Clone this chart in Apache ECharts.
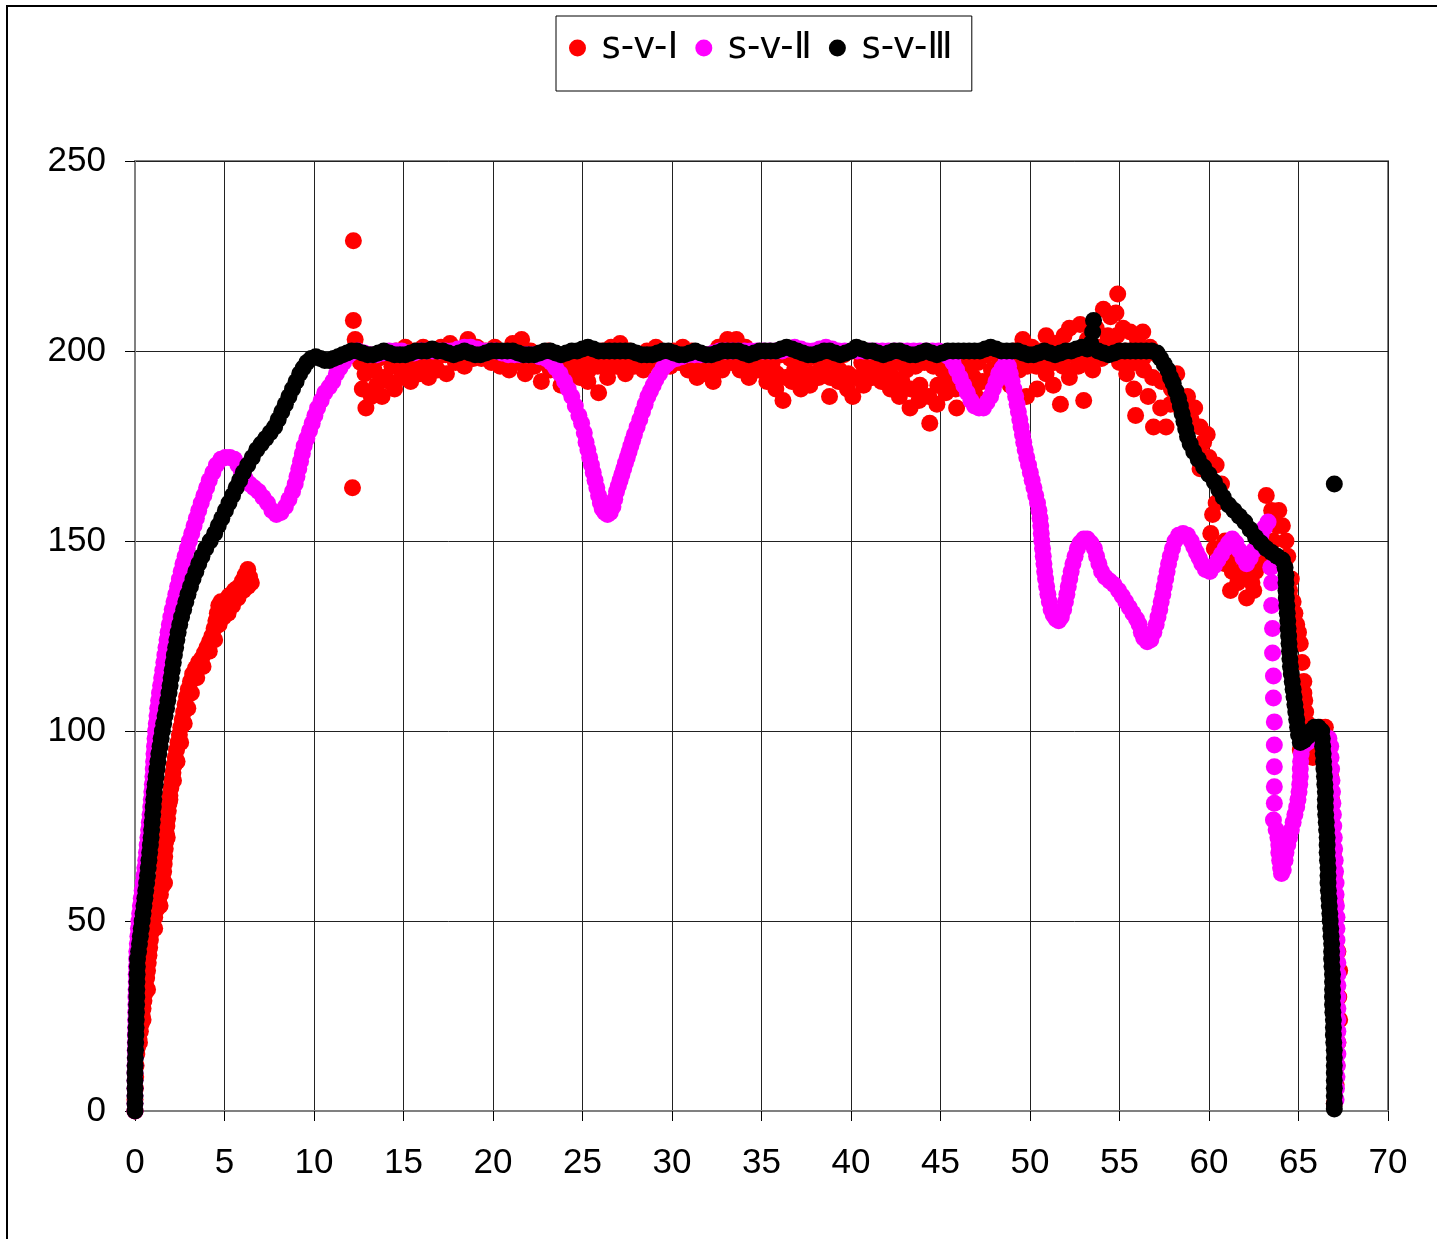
<!DOCTYPE html>
<html>
<head>
<meta charset="utf-8">
<title>s-v</title>
<script src="https://cdn.jsdelivr.net/npm/echarts@6/dist/echarts.min.js"></script>
<style>
  html, body { margin: 0; padding: 0; background: #fff; }
  #chart { width: 1437px; height: 1239px; }
</style>
</head>
<body>
<div id="chart"></div>
<script>
// 系列名
const seriesNames = ['s-v-Ⅰ', 's-v-Ⅱ', 's-v-Ⅲ']
const seriesColors = ['#FF0000', '#FF00FF', '#000000']

// s-v-Ⅰ  [s, v]
const redPoints = [
    [0,0],[0,3],[0.02,6],[0.04,9],[0.06,12],[0.1,15],[0.15,17],[0.22,19],[0.3,21],[0.35,23],[0.4,25],
    [0.45,27],[0.5,29],[0.55,31],[0.6,33],[0.65,35],[0.7,37],[0.74,39],[0.78,41],[0.82,43],[0.86,45],
    [0.9,47],[1.0,49],[1.1,51],[1.2,53],[1.32,55],[1.42,57],[1.5,59],[1.55,61],[1.6,63],[1.63,65],[1.66,67],
    [1.69,69],[1.72,71],[1.75,73],[1.78,75],[1.82,77],[1.86,79],[1.9,81],[1.95,83],[2.0,85],[2.06,87],
    [2.12,89],[2.18,91],[2.25,93],[2.32,95],[2.4,97],[2.48,99],[2.56,101],[2.64,103],[2.72,105],[2.8,107],
    [2.88,109],[2.98,111],[3.1,113],[3.22,115],[3.38,116.5],[3.55,118],[3.72,119],[3.88,120.5],[4.02,122],
    [4.16,123.5],[4.3,125],[4.42,127],[4.52,129],[4.6,131],[4.68,133],[4.8,134],[4.95,133],[5.1,134.5],
    [5.25,135.5],[5.4,136],[5.55,137],[5.7,137.5],[5.85,138],[6.0,139.5],[6.15,141],[6.3,142.5],[6.4,140.5],
    [6.5,139],[6.3,138],[6.05,137],[5.75,135],[5.45,133],[5.2,131],[4.95,130],[4.7,128],[4.45,124],
    [4.15,121],[3.8,117],[3.45,114],[3.15,110],[2.95,106],[2.75,102],[2.55,97],[2.35,92],[2.15,87],
    [1.95,82],[1.8,72],[1.65,60],[1.4,54],[1.1,48],[0.7,32],[0.45,24],[0.25,18],
    [12.2,229],[12.2,208],[12.15,164],[12.3,203],
    [12.6,197],[13.1,196],[13.6,198],[14.1,199],[14.6,200],[15.1,201],[15.6,200],[16.1,201],[16.6,199],
    [17.1,201],[17.6,202],[18.1,200],[18.6,203],[19.1,201],[19.6,200],[20.1,201],[20.6,199],[21.1,202],
    [21.6,203],[22.1,200],[22.6,199],[23.1,200],[23.6,198],[24.1,199],[24.6,197],[25.1,198],[25.6,199],
    [26.1,200],[26.6,201],[27.1,202],[27.6,200],[28.1,199],[28.6,200],[29.1,201],[29.6,199],[30.1,200],
    [30.6,201],[31.1,200],[31.6,199],[32.1,199],[32.6,201],[33.1,203],[33.6,203],[34.1,201],[34.6,199],
    [35.1,198],[35.6,197],[36.1,199],[36.6,198],[37.1,197],[37.6,198],[38.1,200],[38.6,197],[39.1,198],
    [39.6,199],[40.1,200],[40.6,197],[41.1,196],[41.6,198],[42.1,196],[42.6,197],[43.1,195],[43.6,196],
    [44.1,197],[44.6,196],[45.1,195],[45.6,197],[46.1,198],[46.6,196],[47.1,197],[47.6,199],[48.1,199],
    [48.6,197],[49.1,200],[49.6,203],[50.1,201],[50.6,200],[50.9,204],[51.4,202],[51.9,204],[52.2,206],
    [52.8,207],[53.2,203],[53.7,206],[54.1,211],[54.5,209],[54.9,215],[54.8,210],[55.2,206],[55.6,205],
    [56.0,203],[56.3,205],[56.7,201],[57.1,199],
    [12.7,190],[12.9,185],[13.2,188],[13.5,191],[13.8,188],[14.2,192],[14.5,190],[14.9,193],[15.4,192],
    [15.9,194],[16.4,193],[16.9,195],[17.4,194],[17.9,197],[18.4,196],[18.9,198],[19.4,199],[19.9,197],
    [20.4,196],[20.9,195],[21.3,197],[21.8,194],[22.3,196],[22.7,192],[23.2,195],[23.8,191],[24.3,193],
    [24.8,195],[25.3,192],[25.9,189],[26.4,193],[26.9,196],[27.4,194],[27.9,196],[28.4,195],[28.9,197],
    [29.4,198],[29.9,196],[30.4,197],[30.9,195],[31.4,193],[31.9,194],[32.3,192],[32.8,195],[33.3,197],
    [33.8,195],[34.3,193],[34.8,195],[35.3,192],[35.8,190],[36.2,187],[36.7,192],[37.2,190],[37.7,191],
    [38.2,193],[38.8,188],[39.3,192],[39.8,190],[40.1,188],[40.7,191],[41.2,193],[41.7,192],[42.2,190],
    [42.7,188],[43.3,185],[43.8,187],[44.4,181],[44.8,186],[45.3,189],[45.9,185],[46.4,190],[46.9,189],
    [47.4,187],[47.9,192],[48.4,194],[48.9,191],[49.4,195],[49.8,188],[50.4,190],[50.9,194],[51.3,191],
    [51.7,186],[52.2,193],[52.7,196],[53.0,187],[53.5,195],[54.0,198],[54.6,201],[55.0,197],[55.4,194],
    [55.8,190],[55.9,183],[56.3,198],[56.6,188],[56.9,180],[57.3,185],[57.6,180],[57.9,190],[58.2,194],
    [58.4,185],
    [12.85,194],[13.35,195],[13.85,193],[14.35,196],[14.85,197],[15.35,196],[15.85,198],[16.35,197],
    [16.85,198],[17.35,199],[17.85,199],[18.35,199],[18.85,200],[19.35,198],[19.85,199],[20.35,198],
    [20.85,198],[21.35,200],[21.85,198],[22.35,197],[22.85,197],[23.35,197],[23.85,195],[24.35,196],
    [24.85,193],[25.35,195],[25.85,196],[26.35,197],[26.85,198],[27.35,197],[27.85,198],[28.35,197],
    [28.85,199],[29.35,200],[29.85,198],[30.35,199],[30.85,198],[31.35,196],[31.85,197],[32.35,196],
    [32.85,198],[33.35,200],[33.85,198],[34.35,197],[34.85,197],[35.35,195],[35.85,194],[36.35,193],
    [36.85,195],[37.35,194],[37.85,194],[38.35,196],[38.85,193],[39.35,195],[39.85,194],[40.35,193],
    [40.85,194],[41.35,195],[41.85,195],[42.35,193],[42.85,192],[43.35,190],[43.85,191],[44.35,188],
    [44.85,191],[45.35,192],[45.85,190],[46.35,193],[46.85,193],[47.35,192],[47.85,195],[48.35,197],
    [48.85,195],[49.35,198],[49.85,196],[50.35,196],[50.85,198],[51.35,197],[51.85,196],[52.35,199],
    [52.85,200],[53.35,198],[53.85,201],[54.35,204],[54.85,204],[55.35,200],[55.85,197],[56.35,195],
    [56.85,193],[57.35,192],[57.85,186],
    [58.8,188],[59.0,182],[59.2,185],[59.5,180],[59.7,176],[59.9,178],[59.6,172],[59.5,169],[60.0,172],
    [60.4,170],[60.7,165],[60.4,160],[60.2,157],[60.1,152],[60.3,148],[60.6,146],[60.9,150],[60.9,144],
    [61.3,142],[61.5,146],[61.2,137],[61.6,139],[61.8,141],[62.1,135],[62.4,139],[62.5,137],[62.0,143],
    [62.6,142],[62.8,145],[63.0,147],[63.2,162],[63.5,158],[63.6,150],[63.8,154],[63.9,158],[64.1,154],
    [64.2,144],[64.3,150],[64.4,146],[64.5,137],[64.6,140],[64.7,134],[64.8,131],[64.9,128],[65.0,126],
    [65.1,123],[65.2,118],[65.3,113],[65.3,110],[65.35,108],[65.4,105],[65.5,102],[65.6,98],[65.8,93],
    [65.3,93],[65.1,95],[65.9,96],[66.2,101],[66.5,101],[66.6,92],[66.7,95],[66.8,88],[66.85,82],[66.9,75],
    [66.95,68],[67.0,62],[67.05,55],[67.1,48],[67.2,42],[67.3,37],[67.25,30],[67.3,24],[67.2,18],
    [67.15,12],[67.1,7],[67.0,2]
]

// s-v-Ⅱ
const magentaPoints = [
    [0,0],[0,2],[0,4],[0,6],[0,8],[0,10],[0,12],[0.01,14],[0.01,16],[0.02,18],[0.02,20],[0.03,22],[0.03,24],
    [0.04,26],[0.05,28],[0.05,30],[0.06,32],[0.07,34],[0.07,36],[0.08,38],[0.09,40],[0.1,42],[0.13,44],
    [0.16,46],[0.19,48],[0.22,50],[0.26,52],[0.3,54],[0.35,56],[0.4,58],[0.45,60],[0.5,62],[0.55,64],
    [0.6,66],[0.64,68],[0.68,70],[0.72,72],[0.76,74],[0.8,76],[0.84,78],[0.88,80],[0.91,82],[0.94,84],
    [0.97,86],[1.0,88],[1.02,90],[1.04,92],[1.06,94],[1.09,96],[1.12,98],[1.15,100],[1.19,102],[1.23,104],
    [1.27,106],[1.32,108],[1.37,110],[1.43,112],[1.49,114],[1.55,116],[1.61,118],[1.67,120],[1.73,122],
    [1.79,124],[1.85,126],[1.92,128],[2.0,130],[2.08,132],[2.18,134],[2.28,136],[2.38,138],[2.48,140],
    [2.58,142],[2.68,144],[2.8,146],[2.92,148],[3.04,150],[3.17,152],[3.3,154],[3.43,156],[3.56,158],
    [3.7,160],[3.85,162],[4.0,164],[4.15,166],[4.35,168],[4.55,170],[4.8,171.5],[5.05,172],[5.3,172],
    [5.55,171.5],[5.75,170],[5.95,168],[6.15,166.5],[6.4,165],[6.65,164],[6.9,163],[7.15,161.5],[7.4,160],
    [7.65,158],[7.9,157],[8.15,157.5],[8.4,159],[8.6,161],[8.8,163],[8.95,165],[9.05,167],[9.15,169],
    [9.25,171],[9.35,173],[9.45,175],[9.6,177],[9.75,179],[9.9,181],[10.05,183],[10.2,185],[10.4,187],
    [10.6,189],[10.85,190.5],[11.05,192],[11.25,194],[11.45,195.5],[11.65,197],[11.85,198.5],[12.1,199.5],
    [12.45,200],[12.8,199.5],[13.15,199],[13.5,199],[13.85,199.5],[14.2,200],[14.55,200],[14.9,200],
    [15.25,199.5],[15.6,199.5],[15.95,200],[16.3,200],[16.65,200],[17.0,200],[17.35,200],[17.7,200],
    [18.05,200.5],[18.4,201],[18.75,201],[19.1,200.5],[19.45,200],[19.8,200],[20.15,200],[20.5,199.5],
    [20.85,199],[21.2,199],[21.55,199],[21.9,199],[22.25,199],[22.6,198.5],[22.95,198],[23.25,197],
    [23.5,195.5],[23.75,194],[24.0,192],[24.2,190],[24.4,188],[24.6,185.5],[24.8,183],[24.95,181],
    [25.1,178.5],[25.2,176],[25.3,174],[25.4,172],[25.5,170],[25.6,168],[25.7,166],[25.8,164],[25.9,162],
    [26.0,160],[26.1,158.5],[26.25,157.5],[26.4,157],[26.55,157.5],[26.7,159],[26.8,161],[26.9,163],
    [27.0,164.5],[27.1,166],[27.2,167.5],[27.3,169],[27.4,170.5],[27.5,172],[27.6,173.5],[27.7,175],
    [27.8,176.5],[27.9,178],[28.05,180],[28.2,182],[28.35,184],[28.5,186],[28.65,188],[28.8,189.5],
    [28.95,191],[29.1,192.5],[29.3,194],[29.5,195.5],[29.7,196.5],[29.95,197.5],[30.25,198],[30.55,198.5],
    [30.9,199],[31.25,199],[31.6,199],[31.95,199],[32.3,199.5],[32.65,200],[33.0,200],[33.35,200],
    [33.7,200],[34.05,200],[34.4,200],[34.75,200],[35.1,200],[35.45,200],[35.8,200],[36.15,200],
    [36.5,200.5],[36.85,201],[37.2,200.5],[37.55,200],[37.9,200],[38.25,200.5],[38.6,201],[38.95,200.5],
    [39.3,200],[39.65,200],[40.0,200],[40.35,200],[40.7,200],[41.05,200],[41.4,200],[41.75,200],[42.1,200],
    [42.45,200],[42.8,200],[43.15,200],[43.5,200],[43.85,200],[44.2,200],[44.55,200],[44.9,200],
    [45.2,199.5],
    [45.45,198.5],[45.7,197],[45.9,195],[46.1,193],[46.3,191],[46.5,189],[46.7,187],[46.9,185.5],
    [47.15,185],[47.4,185],[47.6,186.5],[47.8,188],[47.95,190],[48.1,192],[48.25,194],[48.45,195.5],
    [48.65,197],[48.8,196],[48.9,194],[49.0,192],[49.1,190],[49.2,188],[49.28,186],[49.35,184],[49.43,182],
    [49.5,180],[49.58,178],[49.65,176],[49.73,174],[49.82,172],[49.92,170],[50.02,168],[50.12,166],
    [50.22,164],[50.32,162],[50.42,160],[50.5,158],[50.56,156],[50.6,154],[50.63,152],[50.66,150],
    [50.7,148],[50.74,146],[50.78,144],[50.82,142],[50.87,140],[50.93,138],[51.0,136],[51.08,134],
    [51.18,132],[51.3,130.5],[51.45,129.5],[51.6,129],[51.75,130],[51.88,132],[51.98,134],[52.06,136],
    [52.14,138],[52.22,140],[52.3,142],[52.4,144],[52.52,146],[52.65,148],[52.8,149.5],[53.0,150.5],
    [53.2,150.5],[53.4,149.5],[53.6,148],[53.72,146],[53.85,144],[54.0,142],[54.2,140.5],[54.45,139.5],
    [54.7,138.5],[54.95,137],[55.15,135.5],[55.35,134],[55.55,132.5],[55.75,131],[55.95,129.5],[56.1,128],
    [56.22,126],[56.35,124.5],[56.55,123.5],[56.75,124],[56.92,126],[57.05,128],[57.15,130],[57.25,132],
    [57.33,134],[57.42,136],[57.5,138],[57.58,140],[57.66,142],[57.74,144],[57.84,146],[57.96,148],
    [58.1,150],[58.3,151.5],[58.55,152],[58.8,151.5],[59.0,150],[59.15,148.5],[59.3,147],[59.45,145.5],
    [59.6,144],[59.8,142.5],[60.05,142],[60.3,143.5],[60.5,145],[60.7,146.5],[60.9,148],[61.1,149.5],
    [61.3,150.5],[61.5,149.5],[61.7,147.5],[61.9,145.5],[62.1,144],[62.3,145.5],[62.5,147.5],[62.7,149.5],
    [62.9,151.5],[63.1,153.5],[63.3,155],
    [63.45,143],[63.5,139],[63.5,133],[63.55,127],[63.55,120.5],[63.6,114.5],[63.6,108.7],[63.65,102.4],
    [63.65,96.3],[63.65,90.6],[63.65,85.3],[63.65,81],[63.6,76.6],
    [63.75,74],[63.85,72],[63.9,70],[63.9,68],[63.95,66],[64.0,64],[64.05,62.5],[64.15,63.5],[64.25,66],
    [64.3,68],[64.4,70],[64.5,72],[64.6,74],[64.7,76],[64.8,78],[64.9,80],[64.97,82],[65.03,84],[65.07,86],
    [65.1,88],[65.1,90],[65.12,92],[65.15,94],[65.25,96],[65.5,97],[65.8,98],[66.1,99],[66.4,99],[66.7,98],
    [66.8,96],[66.82,93],[66.85,90],[66.87,87],[66.9,84],[66.92,81],[66.95,78],[66.97,75],[67.0,72],
    [67.02,69],[67.05,66],[67.07,63],[67.1,60],[67.1,57],[67.12,54],[67.15,51],[67.15,48],[67.15,45],
    [67.17,42],[67.2,39],[67.2,36],[67.2,33],[67.2,30],[67.2,27],[67.2,24],[67.2,21],[67.2,18],[67.2,15],
    [67.17,12],[67.15,9],[67.12,6],[67.1,3]
]

// s-v-Ⅲ
const blackPoints = [
    [0,0],[0,2],[0,4],[0,6],[0,8],[0,10],[0.01,12],[0.02,14],[0.03,16],[0.04,18],[0.05,20],[0.06,22],
    [0.07,24],[0.08,26],[0.09,28],[0.1,30],[0.1,32],[0.11,34],[0.12,36],[0.13,38],[0.14,40],[0.2,42],
    [0.25,44],[0.3,46],[0.35,48],[0.4,50],[0.45,52],[0.5,54],[0.55,56],[0.6,58],[0.65,60],[0.7,62],
    [0.74,64],[0.78,66],[0.82,68],[0.86,70],[0.9,72],[0.93,74],[0.96,76],[0.99,78],[1.02,80],[1.05,82],
    [1.08,84],[1.13,86],[1.18,88],[1.23,90],[1.28,92],[1.33,94],[1.4,96],[1.46,98],[1.53,100],[1.6,102],
    [1.68,104],[1.76,106],[1.83,108],[1.9,110],[1.96,112],[2.02,114],[2.08,116],[2.14,118],[2.2,120],
    [2.27,122],[2.34,124],[2.41,126],[2.5,128],[2.6,130],[2.72,132],[2.84,134],[2.96,136],[3.1,138],
    [3.24,140],[3.4,142],[3.56,144],[3.74,146],[3.95,148],[4.2,150],[4.45,152],[4.65,154],[4.85,156],
    [5.05,158],[5.25,160],[5.45,162],[5.65,164],[5.85,166],[6.05,168],[6.3,170],[6.55,172],[6.8,174],
    [7.05,175.5],[7.3,177],[7.55,178.5],[7.8,180],[8.0,182],[8.2,184],[8.4,186],[8.6,188],[8.8,190],
    [9.0,192],[9.2,194],[9.4,195.5],[9.6,197],[9.85,198],[10.1,198.5],[10.35,198],[10.6,197.5],
    [10.85,197.5],[11.1,198],[11.35,198.5],[11.6,199],[11.85,199.5],
    [12.1,200],[12.4,200],[12.7,199.5],[13.0,199],[13.3,199],[13.6,199.5],[13.9,200],[14.2,199.5],
    [14.5,199],[14.8,199],[15.1,199],[15.4,199.5],[15.7,200],[16.0,200],[16.3,200],[16.6,200.5],[16.9,200],
    [17.2,200],[17.5,199.5],[17.8,199],[18.1,199.5],[18.4,200],[18.7,199.5],[19.0,199],[19.3,199],
    [19.6,199.5],[19.9,200],[20.2,200],[20.5,200],[20.8,200],[21.1,200],[21.4,199.5],[21.7,199],[22.0,199],
    [22.3,199],[22.6,199.5],[22.9,200],[23.2,200],[23.5,199.5],[23.8,199],[24.1,199.5],[24.4,200],
    [24.7,200],[25.0,200.5],[25.3,201],[25.6,200.5],[25.9,200],[26.2,200],[26.5,200],[26.8,200],[27.1,200],
    [27.4,200],[27.7,200],[28.0,199.5],[28.3,199],[28.6,199],[28.9,199],[29.2,199.5],[29.5,200],[29.8,200],
    [30.1,199.5],[30.4,199],[30.7,199],[31.0,199.5],[31.3,200],[31.6,199.5],[31.9,199],[32.2,199],
    [32.5,199.5],[32.8,200],[33.1,200],[33.4,200],[33.7,200],[34.0,199.5],[34.3,199],[34.6,199.5],
    [34.9,200],[35.2,200],[35.5,200],[35.8,200],[36.1,200.5],[36.4,201],[36.7,200.5],[37.0,200],
    [37.3,199.5],[37.6,199],[37.9,199],[38.2,199.5],[38.5,200],[38.8,200],[39.1,199.5],[39.4,199],
    [39.7,199.5],[40.0,200],[40.3,201],[40.6,200.5],[40.9,200],[41.2,200],[41.5,199.5],[41.8,199],
    [42.1,199.5],[42.4,200],[42.7,200],[43.0,199.5],[43.3,199],[43.6,199],[43.9,199.5],[44.2,200],
    [44.5,199.5],[44.8,199],[45.1,199.5],[45.4,200],[45.7,200],[46.0,200],[46.3,200],[46.6,200],[46.9,200],
    [47.2,200],[47.5,200.5],[47.8,201],[48.1,200.5],[48.4,200],[48.7,200],[49.0,200],[49.3,200],
    [49.6,199.5],[49.9,199],[50.2,199],[50.5,199.5],[50.8,200],[51.1,199.5],[51.4,199],[51.7,199.5],
    [52.0,200],[52.3,200],[52.6,200.5],[52.9,201],[53.2,200.5],[53.4,202],[53.5,205],[53.55,208],
    [53.8,200],[54.1,199.5],[54.4,199],[54.7,199.5],[55.0,200],[55.3,200],[55.6,200],[55.9,200],[56.2,200],
    [56.5,200],[56.8,200],[57.1,199.5],
    [57.3,198],[57.5,196.5],[57.7,195],[57.85,193],[58.0,191.5],[58.15,189.5],[58.3,187.5],[58.4,185.5],
    [58.5,183.5],[58.6,181.5],[58.7,179.5],[58.8,177.5],[58.95,175.5],[59.15,173.5],[59.4,171.5],
    [59.7,169.5],[60.0,167.5],[60.3,165.5],[60.55,163.5],[60.8,161.5],[61.1,159.5],[61.4,158],[61.7,156.5],
    [62.0,155],[62.3,153],[62.6,151],[62.9,149.5],[63.2,148],[63.5,147],[63.8,146],[64.1,145],[64.25,143],
    [64.3,141],[64.3,139],[64.3,137],[64.32,135],[64.35,133],[64.37,131],[64.4,129],[64.42,127],[64.45,125],
    [64.47,123],[64.5,121],[64.52,119],[64.55,117],[64.6,115],[64.65,113],[64.7,111],[64.75,109],[64.8,107],
    [64.85,105],[64.9,103],[64.95,101],[65.0,99],[65.1,97],[65.3,97.5],[65.5,98.5],[65.7,100],[65.9,101],
    [66.1,101],[66.3,100],[66.33,98],[66.35,96],[66.38,94],[66.4,92],[66.42,90],[66.45,88],[66.47,86],
    [66.5,84],[66.5,82],[66.5,80],[66.52,78],[66.55,76],[66.57,74],[66.6,72],[66.6,70],[66.6,68],
    [66.62,66],[66.65,64],[66.65,62],[66.65,60],[66.67,58],[66.7,56],[66.72,54],[66.75,52],[66.77,50],
    [66.8,48],[66.82,46],[66.85,44],[66.85,42],[66.85,40],[66.87,38],[66.9,36],[66.9,34],[66.9,32],
    [66.9,30],[66.9,28],[66.92,26],[66.95,24],[66.95,22],[66.95,20],[66.97,18],[67.0,16],[67.0,14],
    [67.0,12],[67.0,10],[67.0,8],[67.0,6],[67.0,4],[67.0,2],[67.0,0.5],
    [67.0,165]
]

const seriesData = [redPoints, magentaPoints, blackPoints]

const axisFont = '"Liberation Sans", Arial, sans-serif'
const legendFont = '"DejaVu Sans", Verdana, sans-serif'

const chart = echarts.init(document.getElementById('chart'))

chart.setOption({
    animation: false,
    backgroundColor: '#fff',
    graphic: [{
        type: 'rect',
        shape: { x: 7, y: 6, width: 1500, height: 1300 },
        style: { fill: 'none', stroke: '#000', lineWidth: 2 },
        silent: true
    }],
    legend: {
        data: seriesNames,
        left: 556,
        top: 16,
        orient: 'horizontal',
        icon: 'circle',
        itemWidth: 38,
        itemHeight: 17,
        itemGap: 17,
        padding: [12, 19, 23, 13],
        borderColor: '#000',
        borderWidth: 1,
        textStyle: {
            color: '#000',
            fontSize: 37,
            lineHeight: 40,
            fontFamily: legendFont
        }
    },
    grid: {
        left: 135,
        top: 161,
        width: 1253,
        height: 950,
        show: true,
        borderColor: '#808080',
        borderWidth: 2,
        backgroundColor: 'transparent'
    },
    xAxis: {
        type: 'value',
        min: 0,
        max: 70,
        interval: 5,
        axisLine: { show: true, onZero: false, lineStyle: { color: '#808080', width: 2 } },
        axisTick: { show: true, length: 10, lineStyle: { color: '#000' } },
        splitLine: { show: true, lineStyle: { color: '#222', width: 1 } },
        axisLabel: { color: '#000', fontSize: 35, margin: 35, fontFamily: axisFont }
    },
    yAxis: {
        type: 'value',
        min: 0,
        max: 250,
        interval: 50,
        axisLine: { show: true, onZero: false, lineStyle: { color: '#808080', width: 2 } },
        axisTick: { show: true, length: 10, lineStyle: { color: '#000' } },
        splitLine: { show: true, lineStyle: { color: '#222', width: 1 } },
        axisLabel: { color: '#000', fontSize: 35, margin: 29, fontFamily: axisFont }
    },
    series: seriesNames.map((name, i) => ({
        name: name,
        type: 'scatter',
        symbol: 'circle',
        symbolSize: 17,
        data: seriesData[i],
        itemStyle: { color: seriesColors[i], opacity: 1 },
        emphasis: { disabled: true },
        z: 2 + i
    }))
})
</script>
</body>
</html>
